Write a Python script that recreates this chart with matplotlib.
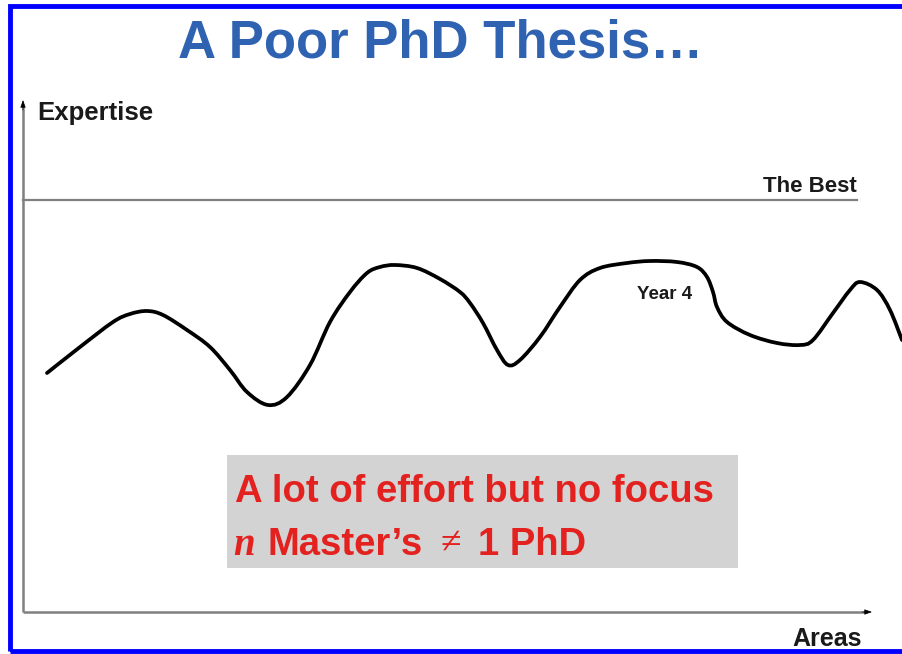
import numpy as np
import matplotlib.pyplot as plt
from matplotlib.patches import Rectangle, PathPatch
from matplotlib.path import Path

# curve: position along "Areas" and level of "Expertise"
areas = [24, 57, 90, 107, 124, 140, 164, 187, 207, 224, 245, 264, 287, 307,
         327, 344, 357, 372, 394, 417, 437, 447, 460, 474, 485, 497, 517, 537,
         557, 577, 604, 627, 654, 674, 684, 690, 694, 704, 727, 754, 777, 790,
         810, 827, 837, 854, 867, 879]
expertise = [239, 265, 290, 298, 301, 297, 282, 265, 242, 220, 207, 215, 247, 290,
             320, 339, 345, 347, 344, 333, 320, 309, 289, 262, 247, 252, 275, 305,
             332, 344, 349, 351, 350, 345, 335, 320, 305, 290, 277, 269, 267, 272,
             299, 322, 330, 322, 302, 272]
best_level = 412
year4_label = ("Year 4", 614, 313)

title = "A Poor PhD Thesis\u2026"
sans = "Liberation Sans"
serif = "Liberation Serif"
red = "#e3211f"


def smooth_path(x, y):
    # cubic bezier segments through the read points (catmull-rom tangents)
    pts = np.column_stack([x, y]).astype(float)
    verts = [pts[0]]
    codes = [Path.MOVETO]
    for i in range(len(pts) - 1):
        p0 = pts[max(i - 1, 0)]
        p1 = pts[i]
        p2 = pts[i + 1]
        p3 = pts[min(i + 2, len(pts) - 1)]
        verts += [p1 + (p2 - p0) / 6, p2 - (p3 - p1) / 6, p2]
        codes += [Path.CURVE4] * 3
    return Path(verts, codes)


fig = plt.figure(figsize=(9.02, 6.54), dpi=100)
ax = fig.add_axes([0, 0, 1, 1])
ax.set_xlim(-23, 879)
ax.set_ylim(-42, 612)
ax.axis("off")

# blue slide border
fig.patches.append(Rectangle((9.5 / 902, 3.5 / 654), 1.0, 1 - 9 / 654,
                             transform=fig.transFigure, fill=False,
                             edgecolor="#0000ff", linewidth=3.5))

ax.text(418, 555, title, ha="center", va="baseline", fontsize=38,
        fontweight="bold", color="#2f63b2", family=sans)

# axes: grey lines with small black arrow heads
ax.plot([0, 0], [0, 506], color="#808080", lw=1.8, solid_capstyle="butt")
ax.plot([0, 843], [0, 0], color="#808080", lw=1.8, solid_capstyle="butt")
head = dict(arrowstyle="-|>,head_length=0.45,head_width=0.16", color="black",
            lw=0.5, shrinkA=0, shrinkB=0)
ax.annotate("", xy=(0, 512), xytext=(0, 502), arrowprops=head)
ax.annotate("", xy=(849, 0), xytext=(839, 0), arrowprops=head)

ax.text(14, 492, "Expertise", fontsize=18.5, fontweight="bold", family=sans,
        color="#1a1a1a", va="baseline")
ax.text(839, -34, "Areas", fontsize=18, fontweight="bold", family=sans,
        color="#1a1a1a", va="baseline", ha="right")

ax.plot([0, 834], [best_level, best_level], color="#808080", lw=1.6)
ax.text(834, best_level + 8, "The Best", fontsize=16, fontweight="bold",
        family=sans, color="#1a1a1a", ha="right", va="baseline")

ax.add_patch(PathPatch(smooth_path(areas, expertise), facecolor="none",
                       edgecolor="black", lw=2.7, capstyle="round",
                       joinstyle="round", clip_on=False))
ax.text(year4_label[1], year4_label[2], year4_label[0], fontsize=13.5,
        fontweight="bold", family=sans, color="#1a1a1a", va="baseline")

# grey message box
ax.add_patch(Rectangle((204, 44), 511, 113, facecolor="#d3d3d3", edgecolor="none"))
ax.text(212, 110, "A lot of effort but no focus", fontsize=27.5, fontweight="bold",
        family=sans, color=red, va="baseline")
ax.text(210, 57, "n", fontsize=28, style="italic", fontweight="bold",
        family=serif, color=red, va="baseline")
ax.text(244, 57, "Master\u2019s", fontsize=27.5, fontweight="bold", family=sans,
        color=red, va="baseline")
ax.text(417, 59, "\u2260", fontsize=27, family=serif, color=red, va="baseline")
ax.text(455, 57, "1 PhD", fontsize=27.5, fontweight="bold", family=sans,
        color=red, va="baseline")

fig.savefig("out.png", dpi=100)
